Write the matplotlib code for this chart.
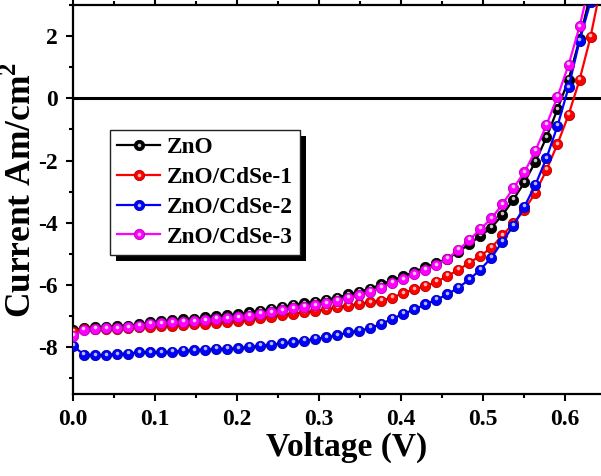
import numpy as np
import matplotlib
matplotlib.use('Agg')
import matplotlib.pyplot as plt
from matplotlib.transforms import ScaledTranslation, IdentityTransform
from matplotlib.patches import Rectangle
from matplotlib.legend_handler import HandlerTuple
from matplotlib.ticker import MultipleLocator

plt.rcParams['font.family'] = ['Liberation Serif', 'DejaVu Serif']
plt.rcParams['font.weight'] = 'bold'
plt.rcParams['axes.labelweight'] = 'bold'
plt.rcParams['axes.unicode_minus'] = False
plt.rcParams['mathtext.fontset'] = 'custom'
plt.rcParams['mathtext.rm'] = 'Liberation Serif:bold'
plt.rcParams['mathtext.bf'] = 'Liberation Serif:bold'

# ---------------- data ----------------
voltage = [0.0, 0.0134, 0.0269, 0.0403, 0.0537, 0.0672, 0.0806, 0.0940, 0.1074, 0.1209,
           0.1343, 0.1477, 0.1612, 0.1746, 0.1880, 0.2015, 0.2149, 0.2283, 0.2417, 0.2552,
           0.2686, 0.2820, 0.2955, 0.3089, 0.3223, 0.3358, 0.3492, 0.3626, 0.3760, 0.3895,
           0.4029, 0.4163, 0.4298, 0.4432, 0.4566, 0.4701, 0.4835, 0.4969, 0.5103, 0.5238,
           0.5372, 0.5506, 0.5641, 0.5775, 0.5909, 0.6044, 0.6178, 0.6312, 0.6446]

zno = [-7.45, -7.38, -7.36, -7.34, -7.33, -7.30, -7.26, -7.20, -7.17, -7.13,
       -7.10, -7.08, -7.04, -7.00, -6.97, -6.94, -6.88, -6.82, -6.77, -6.70,
       -6.64, -6.58, -6.53, -6.47, -6.40, -6.30, -6.22, -6.11, -5.98, -5.84,
       -5.72, -5.57, -5.43, -5.30, -5.15, -4.93, -4.68, -4.42, -4.15, -3.75,
       -3.25, -2.70, -2.03, -1.25, -0.35, 0.60, 1.90, 3.35, 4.90]

cdse1 = [-7.50, -7.42, -7.42, -7.41, -7.40, -7.38, -7.36, -7.34, -7.32, -7.30,
         -7.28, -7.26, -7.24, -7.21, -7.19, -7.16, -7.13, -7.07, -7.02, -6.96,
         -6.92, -6.88, -6.83, -6.78, -6.72, -6.66, -6.60, -6.55, -6.50, -6.40,
         -6.26, -6.13, -6.03, -5.90, -5.71, -5.51, -5.28, -5.06, -4.80, -4.40,
         -4.02, -3.58, -3.03, -2.30, -1.47, -0.53, 0.59, 1.97, 3.70]

cdse2 = [-7.95, -8.24, -8.25, -8.25, -8.22, -8.20, -8.16, -8.16, -8.16, -8.14,
         -8.12, -8.09, -8.08, -8.05, -8.05, -8.03, -7.99, -7.95, -7.92, -7.87,
         -7.84, -7.79, -7.73, -7.68, -7.61, -7.52, -7.47, -7.38, -7.25, -7.08,
         -6.93, -6.78, -6.62, -6.47, -6.30, -6.08, -5.82, -5.50, -5.12, -4.60,
         -4.09, -3.48, -2.77, -1.92, -0.89, 0.35, 1.84, 3.10, 4.50]

cdse3 = [-7.63, -7.44, -7.41, -7.39, -7.39, -7.36, -7.31, -7.25, -7.23, -7.20,
         -7.18, -7.17, -7.13, -7.09, -7.07, -7.04, -6.98, -6.93, -6.88, -6.81,
         -6.75, -6.70, -6.65, -6.58, -6.51, -6.40, -6.33, -6.22, -6.08, -5.93,
         -5.81, -5.65, -5.50, -5.36, -5.15, -4.87, -4.55, -4.20, -3.86, -3.40,
         -2.88, -2.37, -1.68, -0.85, 0.05, 1.07, 2.31, 3.80, 5.40]

labels = ['ZnO', 'ZnO/CdSe-1', 'ZnO/CdSe-2', 'ZnO/CdSe-3']
series = [zno, cdse1, cdse2, cdse3]
colors = ['#000000', '#ff0000', '#0000ff', '#ff00ff']
edges = ['#000000', '#b00000', '#0000a0', '#b000b0']
highlights = ['#c8c8c8', '#ffb8b8', '#b8b8ff', '#ffc8ff']

# ---------------- figure ----------------
fig = plt.figure(figsize=(6.01, 4.76), dpi=100)
ax = fig.add_axes([73 / 601, 1 - 394 / 476, 1 - 73 / 601, (394 - 5) / 476])

ax.axhline(0, color='black', lw=2.2, zorder=2)

hl_shift = ScaledTranslation(-0.005, 0.016, fig.dpi_scale_trans)
handles = []
for lab, ys, c, e, h in zip(labels, series, colors, edges, highlights):
    ln, = ax.plot(voltage, ys, '-', color=c, lw=1.6, marker='o', ms=7.4,
                  mfc=c, mec=e, mew=0.6, zorder=3)
    hl, = ax.plot(voltage, ys, 'o', ls='none', ms=2.6, mfc=h, mec='none',
                  zorder=3, transform=ax.transData + hl_shift)
    hl2, = ax.plot([], [], 'o', ls='none', ms=2.6, mfc=h, mec='none')
    handles.append((ln, hl2))

ax.set_xlim(0, 0.644)
ax.set_ylim(-9.5, 3)
ax.xaxis.set_major_locator(MultipleLocator(0.1))
ax.xaxis.set_minor_locator(MultipleLocator(0.05))
ax.yaxis.set_major_locator(MultipleLocator(2))
ax.yaxis.set_minor_locator(MultipleLocator(1))
ax.tick_params(which='both', direction='out', top=True, right=False,
               labeltop=False, width=1.5, labelsize=17)
ax.tick_params(which='major', length=5, pad=6)
ax.tick_params(which='minor', length=3)
for s in ['left', 'bottom', 'top']:
    ax.spines[s].set_linewidth(1.6)
ax.spines['right'].set_visible(False)

ax.set_xlabel('Voltage (V)', fontsize=24)
ax.set_ylabel(r'Current Am/cm$^{\mathbf{2}}$', fontsize=25.5)
ax.xaxis.set_label_coords(0.519, -0.097)
ax.yaxis.set_label_coords(-0.064, 0.525)

leg = ax.legend(handles, labels, handler_map={tuple: HandlerTuple(ndivide=1)},
                loc='upper left', bbox_to_anchor=(110 / 601, 1 - 130 / 476),
                bbox_transform=fig.transFigure, borderaxespad=0,
                fontsize=16.8, frameon=True, fancybox=False, framealpha=1,
                edgecolor='#222222', handlelength=1.85, handletextpad=0.3,
                labelspacing=0.36, borderpad=0.3)
leg.get_frame().set_linewidth(1.0)
leg.set_zorder(6)

fig.canvas.draw()
bb = leg.get_window_extent()
shadow = Rectangle((bb.x0 + 6, bb.y0 - 6), bb.width, bb.height,
                   transform=IdentityTransform(), facecolor='black',
                   edgecolor='none', zorder=5.5, clip_on=False)
ax.add_patch(shadow)

fig.savefig('out.png', dpi=100)
